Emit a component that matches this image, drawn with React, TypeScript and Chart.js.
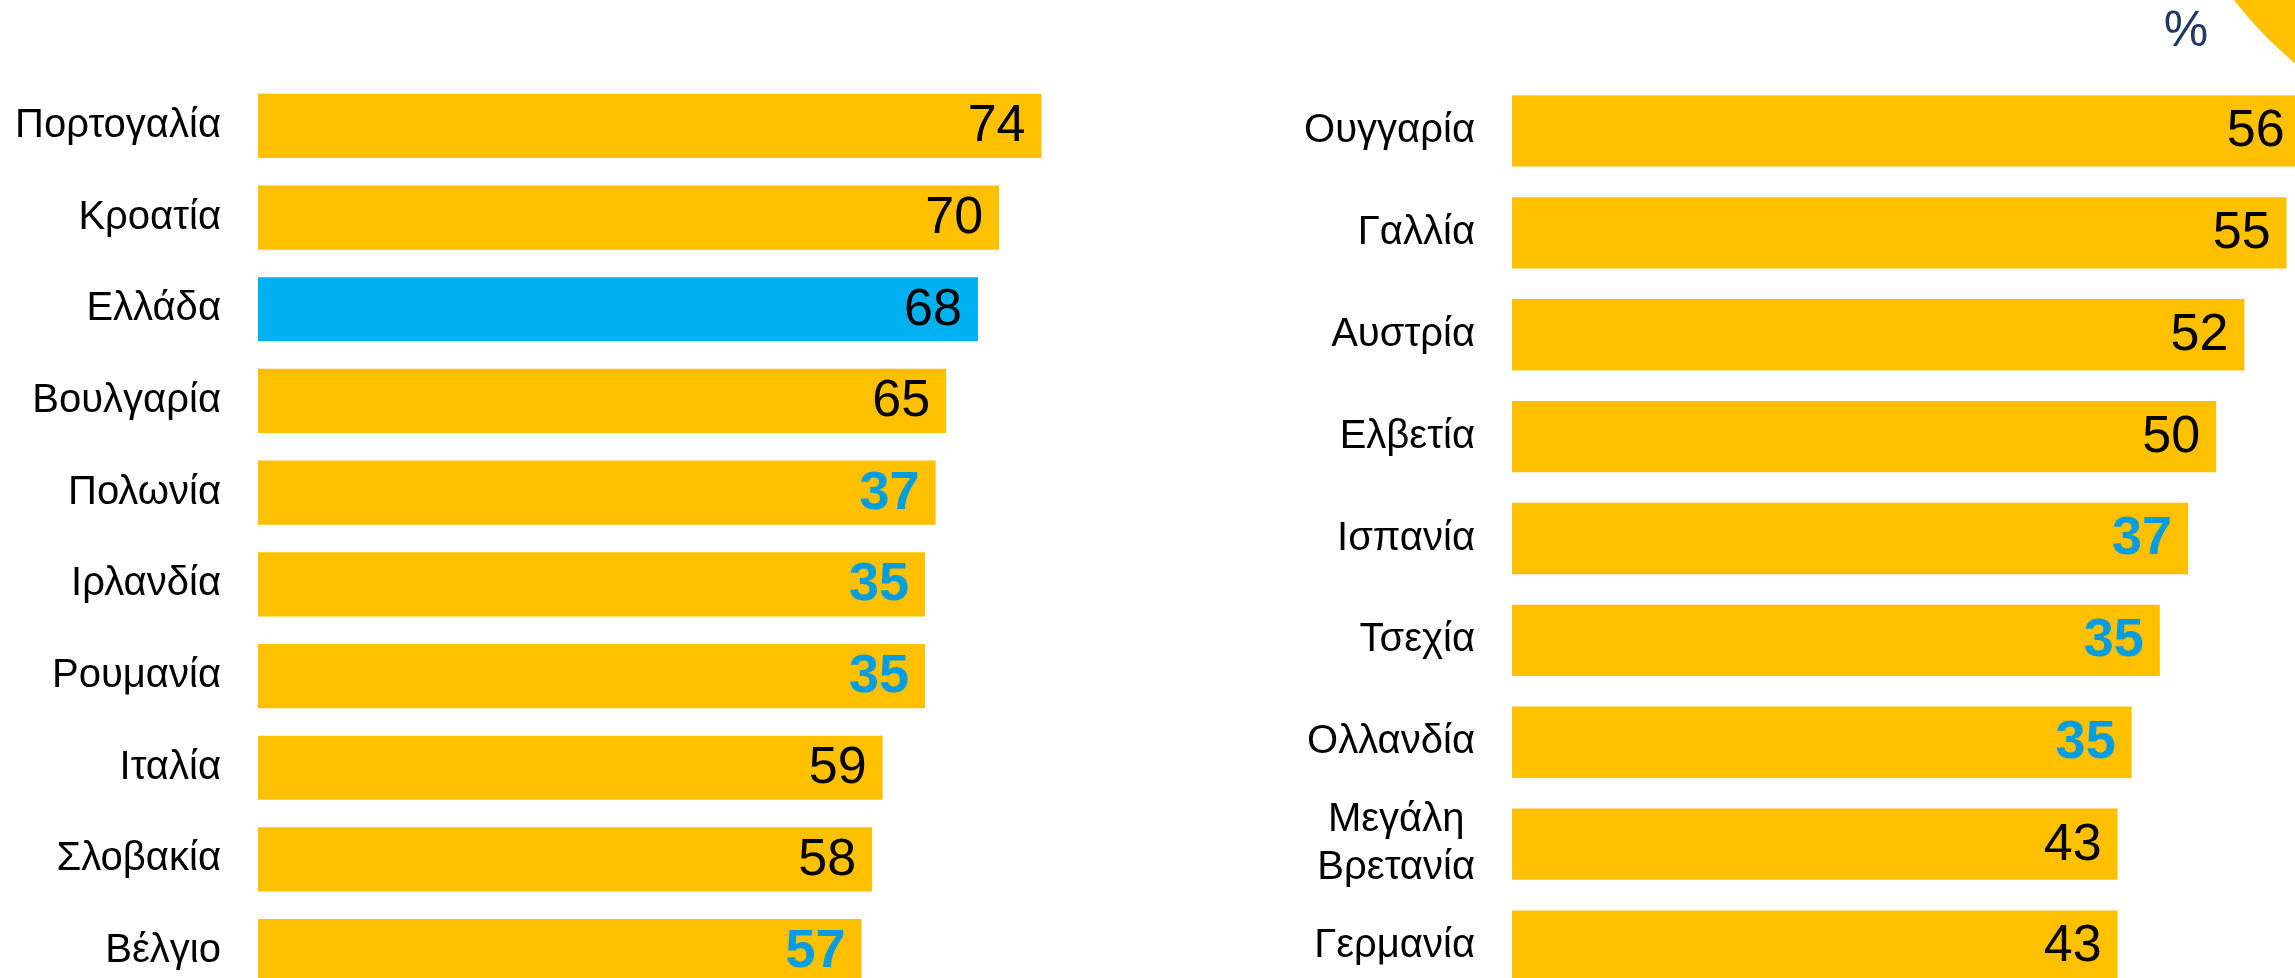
import React, { useEffect, useRef } from "react";
import { Chart, registerables } from "chart.js";

Chart.register(...registerables);

const leftCountries: (string | string[])[] = ["Πορτογαλία", "Κροατία", "Ελλάδα", "Βουλγαρία", "Πολωνία", "Ιρλανδία", "Ρουμανία", "Ιταλία", "Σλοβακία", "Βέλγιο"];
const leftValues = [74, 70, 68, 65, 64, 63, 63, 59, 58, 57];
const leftValueLabels = ["74", "70", "68", "65", "37", "35", "35", "59", "58", "57"];
const leftLabelHighlight = [false, false, false, false, true, true, true, false, false, true];

const rightCountries: (string | string[])[] = ["Ουγγαρία", "Γαλλία", "Αυστρία", "Ελβετία", "Ισπανία", "Τσεχία", "Ολλανδία", ["Μεγάλη", "Βρετανία"], "Γερμανία"];
const rightValues = [56, 55, 52, 50, 48, 46, 44, 43, 43];
const rightValueLabels = ["56", "55", "52", "50", "37", "35", "35", "43", "43"];
const rightLabelHighlight = [false, false, false, false, true, true, true, false, false];

const unitLabel = "%";
const highlightCountry = "Ελλάδα";

const YELLOW = "#FFC000";
const BLUE_BAR = "#00B0F0";
const BLUE_TEXT = "#009EE0";
const NAVY = "#1F3864";
const FONT = "'Liberation Sans', Arial, Helvetica, sans-serif";

type PanelOpts = {
  categories: (string | string[])[];
  valueLabels: string[];
  highlight: boolean[];
  showUnit?: boolean;
};

function makePlugin(p: PanelOpts) {
  return {
    id: "panelText",
    beforeDatasetsDraw(chart: any) {
      if (!p.showUnit) return;
      const ctx = chart.ctx;
      ctx.save();
      // decorative yellow circle edge (top-right)
      ctx.fillStyle = YELLOW;
      ctx.beginPath();
      ctx.arc(1351, -244, 400, 0, Math.PI * 2);
      ctx.fill();
      ctx.fillStyle = NAVY;
      ctx.font = `50px ${FONT}`;
      ctx.textAlign = "center";
      ctx.textBaseline = "middle";
      ctx.fillText(unitLabel, 986, 32);
      ctx.restore();
    },
    afterDatasetsDraw(chart: any) {
      const ctx = chart.ctx;
      const meta = chart.getDatasetMeta(0);
      const yScale = chart.scales.y;
      const left = chart.chartArea.left;
      ctx.save();
      // category labels
      ctx.fillStyle = "#000";
      ctx.font = `40px ${FONT}`;
      ctx.textBaseline = "middle";
      p.categories.forEach((c, i) => {
        const y = yScale.getPixelForValue(i);
        const xr = left - 37;
        if (Array.isArray(c)) {
          const w = Math.max(...c.map((s) => ctx.measureText(s).width));
          const lh = 48;
          ctx.textAlign = "center";
          c.forEach((s, k) => {
            ctx.fillText(s, xr - w / 2, y + (k - (c.length - 1) / 2) * lh);
          });
        } else {
          ctx.textAlign = "right";
          ctx.fillText(c, xr, y);
        }
      });
      // value labels
      meta.data.forEach((bar: any, i: number) => {
        const hl = p.highlight[i];
        ctx.font = hl ? `bold 54px ${FONT}` : `52px ${FONT}`;
        ctx.fillStyle = hl ? BLUE_TEXT : "#000";
        ctx.textAlign = "right";
        ctx.textBaseline = "middle";
        ctx.fillText(p.valueLabels[i], bar.x - 16, bar.y + 1);
      });
      ctx.restore();
    },
  };
}

function makeConfig(categories: (string | string[])[], values: number[], max: number, padLeft: number, p: PanelOpts): any {
  return {
    type: "bar",
    data: {
      labels: categories.map((c) => (Array.isArray(c) ? c.join(" ") : c)),
      datasets: [
        {
          data: values,
          backgroundColor: categories.map((c) => (c === highlightCountry ? BLUE_BAR : YELLOW)),
          borderWidth: 0,
          barPercentage: 0.7,
          categoryPercentage: 1,
        },
      ],
    },
    options: {
      indexAxis: "y",
      responsive: false,
      animation: false,
      devicePixelRatio: 1,
      layout: { padding: { left: padLeft, right: 0, top: 80, bottom: 13 } },
      plugins: { legend: { display: false }, tooltip: { enabled: false }, title: { display: false } },
      scales: {
        x: { display: false, min: 0, max },
        y: { display: false, grid: { display: false } },
      },
    },
    plugins: [makePlugin(p)],
  };
}

function Panel(props: { left: number; width: number; height: number; config: any }) {
  const ref = useRef<HTMLCanvasElement | null>(null);
  useEffect(() => {
    if (!ref.current) return;
    const chart = new Chart(ref.current, props.config);
    return () => chart.destroy();
  }, []);
  return (
    <canvas
      ref={ref}
      width={props.width}
      height={props.height}
      style={{ position: "absolute", left: props.left, top: 0, width: props.width, height: props.height }}
    />
  );
}

export default function App() {
  const leftCfg = makeConfig(leftCountries, leftValues, 80, 258, {
    categories: leftCountries,
    valueLabels: leftValueLabels,
    highlight: leftLabelHighlight,
  });
  const rightCfg = makeConfig(rightCountries, rightValues, 60, 312, {
    categories: rightCountries,
    valueLabels: rightValueLabels,
    highlight: rightLabelHighlight,
    showUnit: true,
  });
  return (
    <div style={{ position: "fixed", left: 0, top: 0, width: 2295, height: 978, overflow: "hidden", background: "#fff" }}>
      <Panel left={0} width={1105} height={1010} config={leftCfg} />
      <Panel left={1200} width={1157} height={1010} config={rightCfg} />
    </div>
  );
}
